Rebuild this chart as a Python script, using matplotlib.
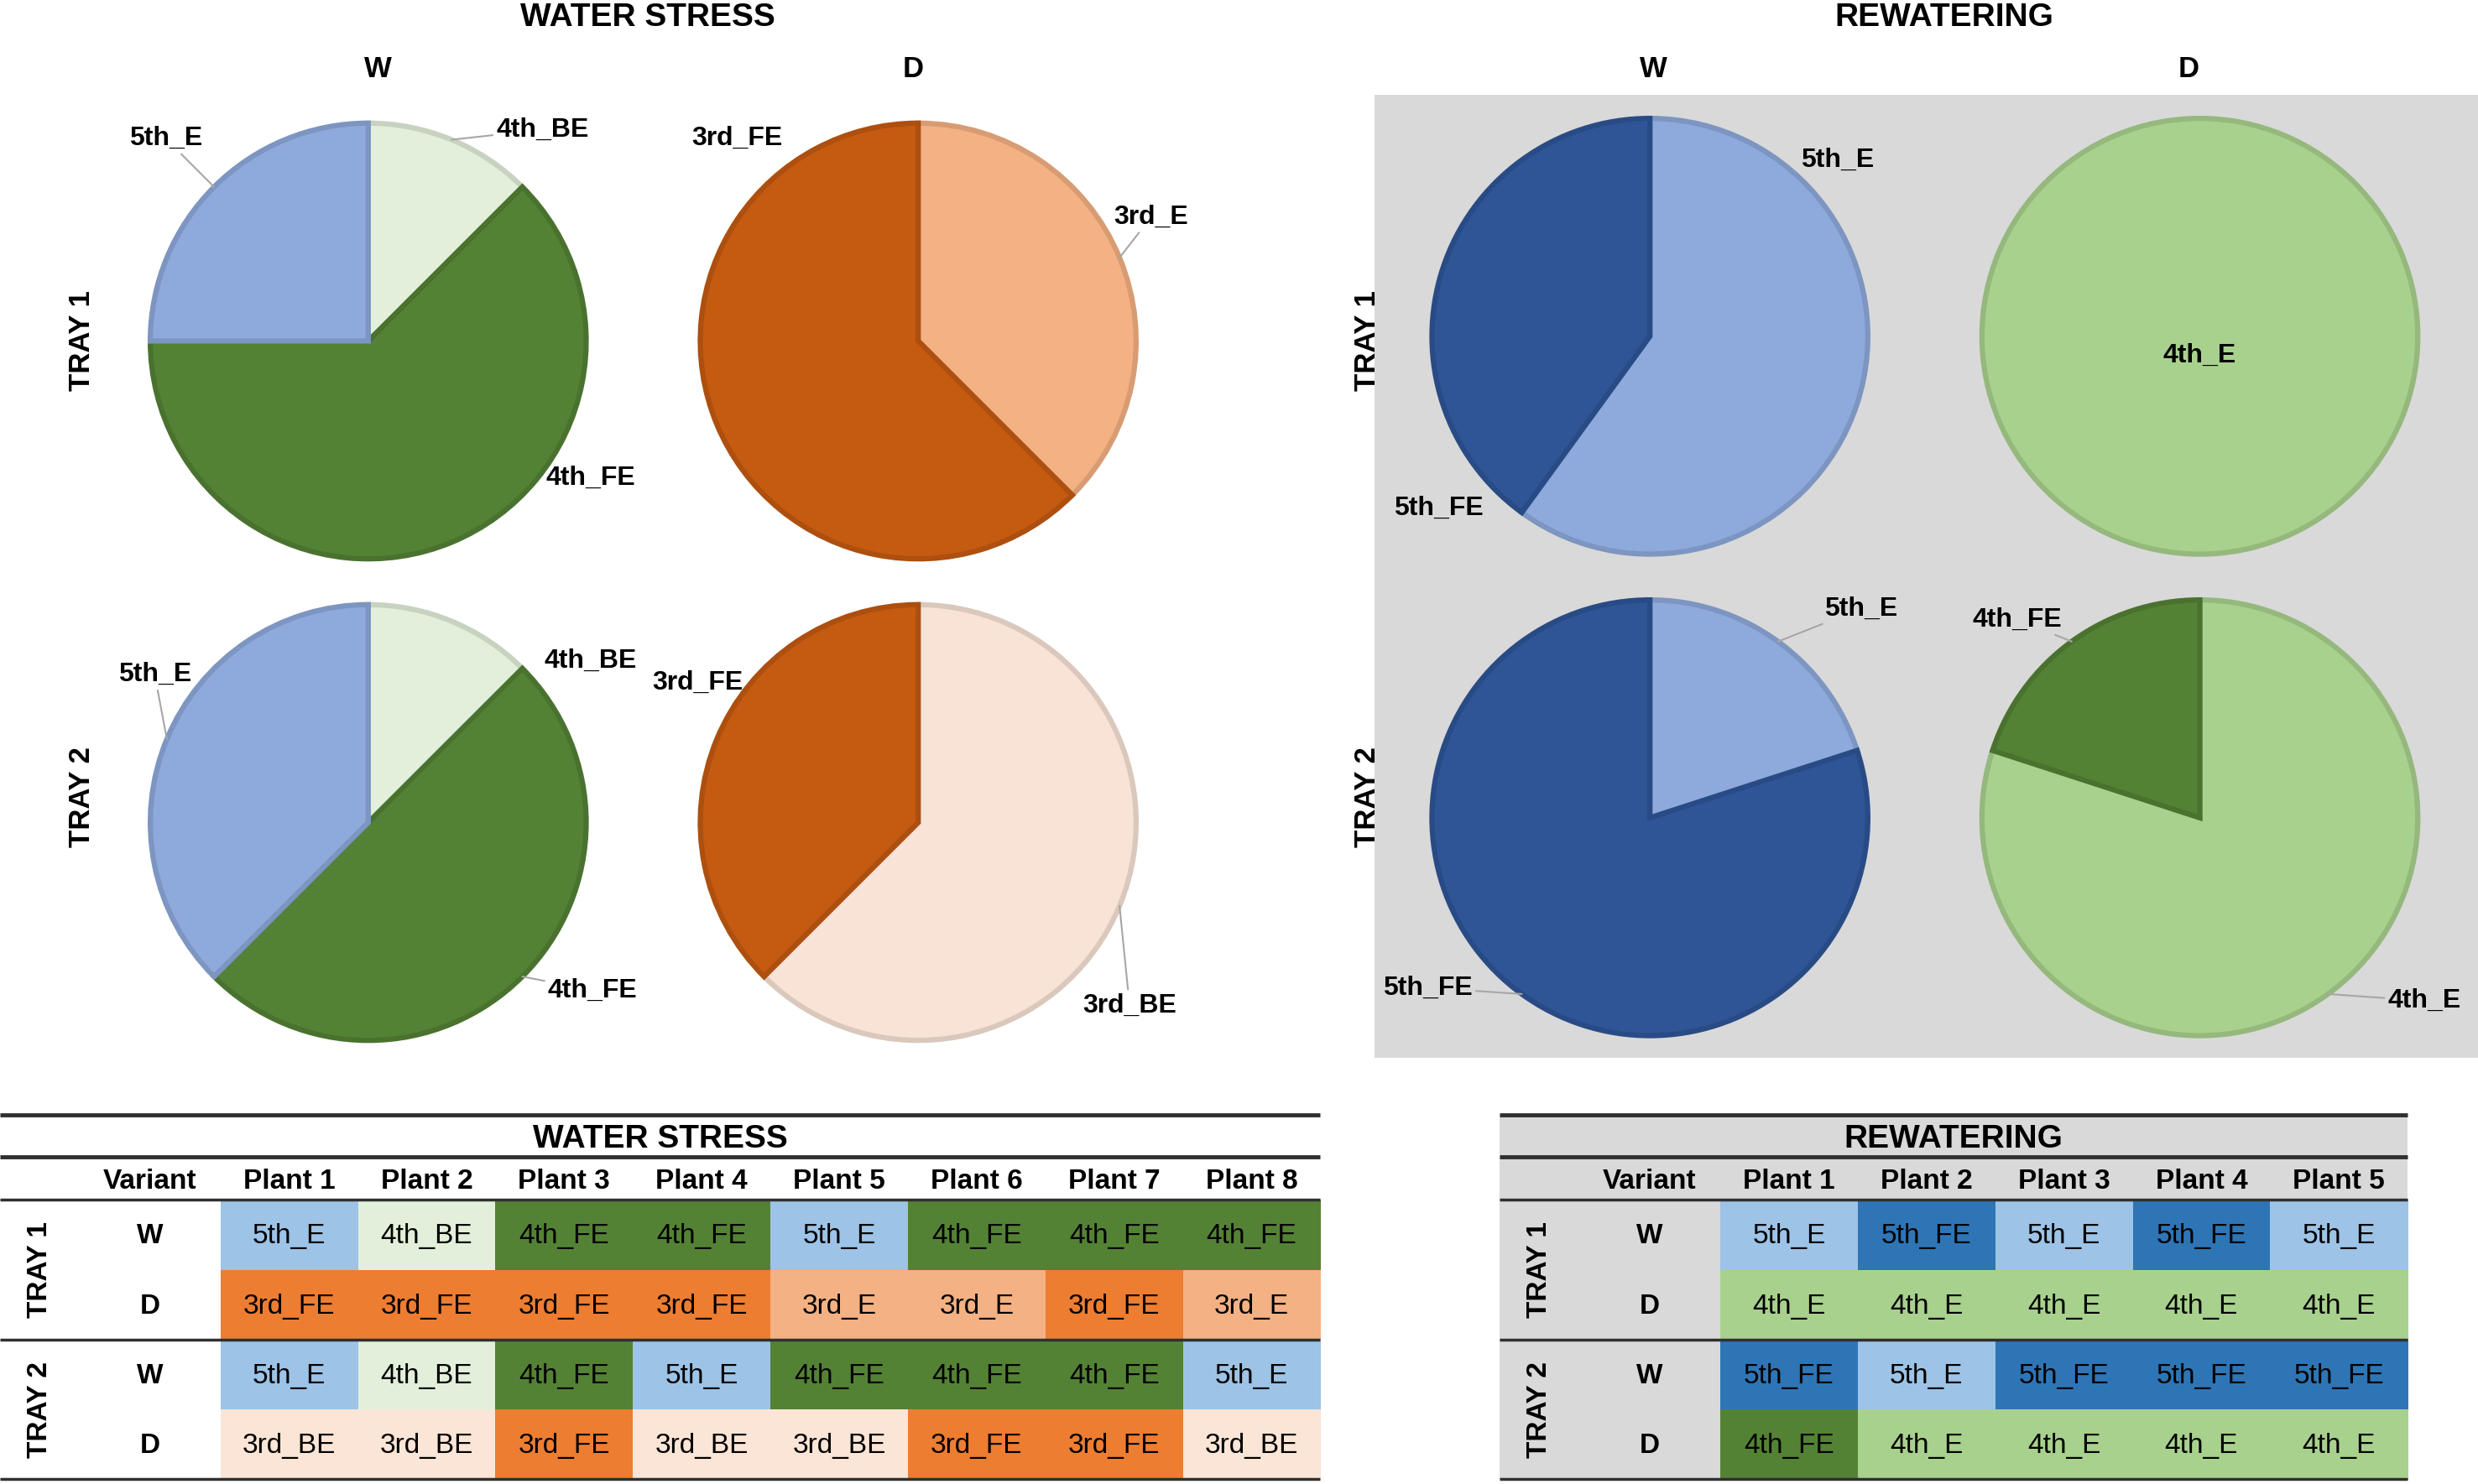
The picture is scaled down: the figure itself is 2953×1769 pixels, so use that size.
import numpy as np
import matplotlib
matplotlib.use('Agg')
import matplotlib.pyplot as plt
from matplotlib.patches import Rectangle
from matplotlib.colors import to_rgb

plt.rcParams['font.family'] = ['Liberation Sans', 'DejaVu Sans']

trays = ['TRAY 1', 'TRAY 2']
variants = ['W', 'D']
ws_plants = ['Plant 1', 'Plant 2', 'Plant 3', 'Plant 4', 'Plant 5', 'Plant 6', 'Plant 7', 'Plant 8']
rw_plants = ['Plant 1', 'Plant 2', 'Plant 3', 'Plant 4', 'Plant 5']

ws_tray1_w = ['5th_E', '4th_BE', '4th_FE', '4th_FE', '5th_E', '4th_FE', '4th_FE', '4th_FE']
ws_tray1_d = ['3rd_FE', '3rd_FE', '3rd_FE', '3rd_FE', '3rd_E', '3rd_E', '3rd_FE', '3rd_E']
ws_tray2_w = ['5th_E', '4th_BE', '4th_FE', '5th_E', '4th_FE', '4th_FE', '4th_FE', '5th_E']
ws_tray2_d = ['3rd_BE', '3rd_BE', '3rd_FE', '3rd_BE', '3rd_BE', '3rd_FE', '3rd_FE', '3rd_BE']

rw_tray1_w = ['5th_E', '5th_FE', '5th_E', '5th_FE', '5th_E']
rw_tray1_d = ['4th_E', '4th_E', '4th_E', '4th_E', '4th_E']
rw_tray2_w = ['5th_FE', '5th_E', '5th_FE', '5th_FE', '5th_FE']
rw_tray2_d = ['4th_FE', '4th_E', '4th_E', '4th_E', '4th_E']

# slice order, clockwise from 12 o'clock
order_ws_w = ['4th_BE', '4th_FE', '5th_E']
order_ws_d = ['3rd_BE', '3rd_E', '3rd_FE']
order_rw_w = ['5th_E', '5th_FE']
order_rw_d = ['4th_E', '4th_FE']

pie_colors = {'5th_E': '#8EA9DB', '4th_BE': '#E2EFDA', '4th_FE': '#548235',
              '3rd_FE': '#C55A11', '3rd_E': '#F4B183', '3rd_BE': '#F8E3D6',
              '5th_FE': '#2F5597', '4th_E': '#A9D18E'}
cell_colors = {'5th_E': '#9DC3E6', '4th_BE': '#E2EFDA', '4th_FE': '#548235',
               '3rd_FE': '#ED7D31', '3rd_E': '#F4B183', '3rd_BE': '#FBE5D6',
               '5th_FE': '#2E75B6', '4th_E': '#A9D18E'}

W0, H0 = 1568, 940
fig = plt.figure(figsize=(29.53, 17.69), dpi=100)
canvas = fig.add_axes([0, 0, 1, 1])
canvas.set_xlim(0, W0)
canvas.set_ylim(H0, 0)
canvas.axis('off')

# gray panel behind the rewatering pies
canvas.add_patch(Rectangle((870, 60), 698, 610, fc='#D9D9D9', ec='none', zorder=0))

bold = dict(fontweight='bold', ha='center', va='center')
canvas.text(410, 11, 'WATER STRESS', fontsize=28, **bold)
canvas.text(1230, 11, 'REWATERING', fontsize=28, **bold)
for x, v in zip([239, 578], variants):
    canvas.text(x, 44, v, fontsize=25, **bold)
for x, v in zip([1046, 1385], variants):
    canvas.text(x, 44, v, fontsize=25, **bold)
for x in [52, 865]:
    for y, t in zip([216, 505], trays):
        canvas.text(x, y, t, fontsize=25, rotation=90, **bold)


def darker(c, f=0.88):
    return tuple(np.array(to_rgb(c)) * f)


PAD = 1.35
R = 138


def draw_pie(cx, cy, cells, order, labels):
    counts = [cells.count(c) for c in order]
    cats = [c for c, n in zip(order, counts) if n > 0]
    vals = [n for n in counts if n > 0]
    h = R * PAD
    ax = fig.add_axes([(cx - h) / W0, 1 - (cy + h) / H0, 2 * h / W0, 2 * h / H0])
    wedges, _ = ax.pie(vals, colors=[pie_colors[c] for c in cats], startangle=90,
                       counterclock=False, wedgeprops=dict(linewidth=4.5))
    for w, c in zip(wedges, cats):
        w.set_edgecolor(darker(pie_colors[c]))
        lx, ly, lead = labels[c]
        if lead:
            mid = np.deg2rad((w.theta1 + w.theta2) / 2)
            ax.annotate(c, xy=(np.cos(mid), np.sin(mid)), xytext=(lx, ly),
                        fontsize=23, annotation_clip=False,
                        arrowprops=dict(arrowstyle='-', color='#A6A6A6', lw=1.5,
                                        shrinkA=1, shrinkB=0), **bold)
        else:
            ax.text(lx, ly, c, fontsize=23, **bold)
    ax.set_xlim(-PAD, PAD)
    ax.set_ylim(-PAD, PAD)
    ax.set_aspect('equal')


draw_pie(233, 216, ws_tray1_w, order_ws_w,
         {'4th_BE': (0.80, 0.97, True), '4th_FE': (1.02, -0.63, False), '5th_E': (-0.93, 0.93, True)})
draw_pie(581, 216, ws_tray1_d, order_ws_d,
         {'3rd_E': (1.07, 0.57, True), '3rd_FE': (-0.83, 0.93, False)})
draw_pie(233, 521, ws_tray2_w, order_ws_w,
         {'4th_BE': (1.02, 0.74, False), '4th_FE': (1.03, -0.77, True), '5th_E': (-0.98, 0.68, True)})
draw_pie(581, 521, ws_tray2_d, order_ws_d,
         {'3rd_BE': (0.97, -0.84, True), '3rd_FE': (-1.01, 0.64, False)})
draw_pie(1044, 213, rw_tray1_w, order_rw_w,
         {'5th_E': (0.86, 0.81, False), '5th_FE': (-0.97, -0.79, False)})
draw_pie(1392, 213, rw_tray1_d, order_rw_d,
         {'4th_E': (0.0, -0.09, False)})
draw_pie(1044, 518, rw_tray2_w, order_rw_w,
         {'5th_E': (0.97, 0.96, True), '5th_FE': (-1.02, -0.78, True)})
draw_pie(1392, 518, rw_tray2_d, order_rw_d,
         {'4th_E': (1.03, -0.84, True), '4th_FE': (-0.84, 0.91, True)})


# ---- tables ----
def draw_table(x0, title, plants, rows, bg=None):
    label_w, var_w, cell_w = 50, 89.5, 87
    top, title_h, head_h, row_h = 706, 27, 27, 44.25
    x1 = x0 + label_w + var_w + cell_w * len(plants)
    y_rows = top + title_h + head_h
    if bg:
        canvas.add_patch(Rectangle((x0, top), x1 - x0, title_h + head_h + 4 * row_h,
                                   fc=bg, ec='none', zorder=0))
    canvas.text((x0 + x1) / 2, top + title_h / 2 + 2, title, fontsize=28, **bold)
    canvas.text(x0 + label_w + var_w / 2, top + title_h + head_h / 2 + 2, 'Variant',
                fontsize=24, **bold)
    for j, p in enumerate(plants):
        px = x0 + label_w + var_w + j * cell_w
        canvas.text(px + cell_w / 2, top + title_h + head_h / 2 + 2, p, fontsize=24, **bold)
    for i, (tray, var, cells) in enumerate(rows):
        y = y_rows + i * row_h
        canvas.text(x0 + label_w + var_w / 2, y + row_h / 2 + 1, var, fontsize=24, **bold)
        for j, c in enumerate(cells):
            px = x0 + label_w + var_w + j * cell_w
            canvas.add_patch(Rectangle((px, y), cell_w + 0.4, row_h + 0.4,
                                       fc=cell_colors[c], ec='none', zorder=1))
            canvas.text(px + cell_w / 2, y + row_h / 2 + 1, c, fontsize=24,
                        ha='center', va='center', zorder=2)
    for k, t in enumerate(trays):
        canvas.text(x0 + label_w / 2, y_rows + row_h * (2 * k + 1), t, fontsize=24,
                    rotation=90, **bold)
    for y, lw in [(top, 3.5), (top + title_h, 3.5), (y_rows, 2.5),
                  (y_rows + 2 * row_h, 2.5), (y_rows + 4 * row_h, 2.5)]:
        canvas.plot([x0, x1], [y, y], color='#303030', lw=lw, zorder=3,
                    solid_capstyle='butt')


draw_table(0, 'WATER STRESS', ws_plants,
           [('TRAY 1', 'W', ws_tray1_w), ('TRAY 1', 'D', ws_tray1_d),
            ('TRAY 2', 'W', ws_tray2_w), ('TRAY 2', 'D', ws_tray2_d)])
draw_table(949, 'REWATERING', rw_plants,
           [('TRAY 1', 'W', rw_tray1_w), ('TRAY 1', 'D', rw_tray1_d),
            ('TRAY 2', 'W', rw_tray2_w), ('TRAY 2', 'D', rw_tray2_d)],
           bg='#D9D9D9')

fig.savefig('out.png', dpi=100)
